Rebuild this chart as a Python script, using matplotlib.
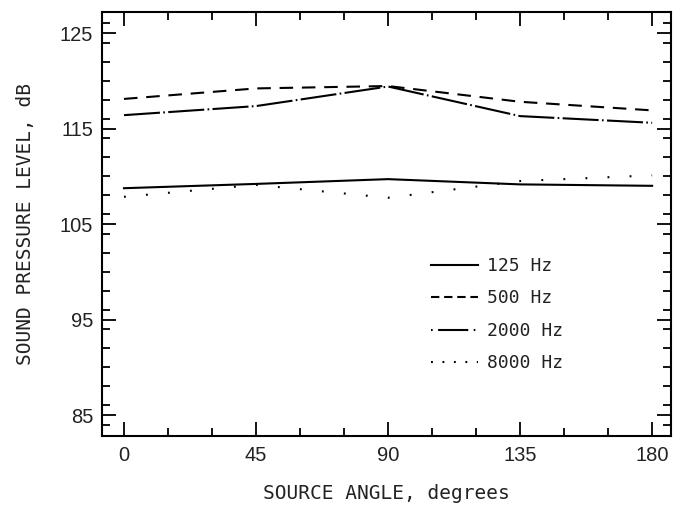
import matplotlib
matplotlib.use("Agg")
import matplotlib.pyplot as plt
from matplotlib.lines import Line2D
from matplotlib.ticker import MultipleLocator

# values (dB at each source angle)
angles = [0, 45, 90, 135, 180]
spl_125 = [108.75, 109.2, 109.7, 109.15, 109.0]
spl_500 = [118.1, 119.2, 119.45, 117.8, 116.9]
spl_2000 = [116.4, 117.35, 119.4, 116.3, 115.6]
spl_8000 = [107.85, 109.1, 107.75, 109.5, 110.1]
labels = ["125 Hz", "500 Hz", "2000 Hz", "8000 Hz"]
xticks = [0, 45, 90, 135, 180]
yticks = [85, 95, 105, 115, 125]

LW = 1.5
LABEL_FONT = "DejaVu Sans Mono"
TICK_FONT = "Liberation Sans"

fig = plt.figure(figsize=(6.87, 5.05), dpi=100)
ax = fig.add_axes([0.148, 0.1366, 0.829, 0.8396])

ax.plot(angles, spl_125, color="black", lw=LW, linestyle="-")
ax.plot(angles, spl_500, color="black", lw=LW, linestyle=(0, (6.5, 4.2)))
ax.plot(angles, spl_2000, color="black", lw=LW, linestyle=(0, (17.3, 1.6, 0.8, 1.6)))
ax.plot(angles, spl_8000, color="black", lw=LW, linestyle=(0, (0.9, 9.7)))

ax.set_xlim(-7.6, 186.5)
ax.set_ylim(82.8, 127.2)
ax.set_xticks(xticks)
ax.set_yticks(yticks)
ax.xaxis.set_minor_locator(MultipleLocator(15))
ax.yaxis.set_minor_locator(MultipleLocator(2))
ax.tick_params(which="both", direction="in", top=True, right=True, width=1.3)
ax.tick_params(which="major", length=10)
ax.tick_params(which="minor", length=5.5)
ax.tick_params(axis="x", pad=7)
ax.tick_params(axis="y", pad=6)
for t in ax.get_xticklabels() + ax.get_yticklabels():
    t.set_fontfamily(TICK_FONT)
    t.set_fontsize(14.5)
    t.set_color("#222222")
for s in ax.spines.values():
    s.set_linewidth(1.5)

ax.set_xlabel("SOURCE ANGLE, degrees", family=LABEL_FONT, fontsize=14,
              color="#222222", labelpad=14)
ax.set_ylabel("SOUND PRESSURE LEVEL, dB", family=LABEL_FONT, fontsize=14,
              color="#222222", labelpad=18)

# legend handles use shorter dash patterns than the plotted curves
handles = [
    Line2D([], [], color="black", lw=LW, linestyle="-"),
    Line2D([], [], color="black", lw=LW, linestyle=(0, (4, 2.3))),
    Line2D([], [], color="black", lw=LW, linestyle=(0, (0.8, 2.6, 14.5, 2.6))),
    Line2D([], [], color="black", lw=LW, linestyle=(0, (0.9, 4.6))),
]
leg = ax.legend(handles, labels, loc="upper left", frameon=False,
                bbox_to_anchor=(431 / 687, 1 - 257 / 505), bbox_transform=fig.transFigure,
                borderpad=0, borderaxespad=0, handlelength=2.6, handletextpad=0.5,
                labelspacing=0.8, prop={"family": LABEL_FONT, "size": 13})
for t in leg.get_texts():
    t.set_color("#222222")

fig.savefig("out.png", dpi=100)
